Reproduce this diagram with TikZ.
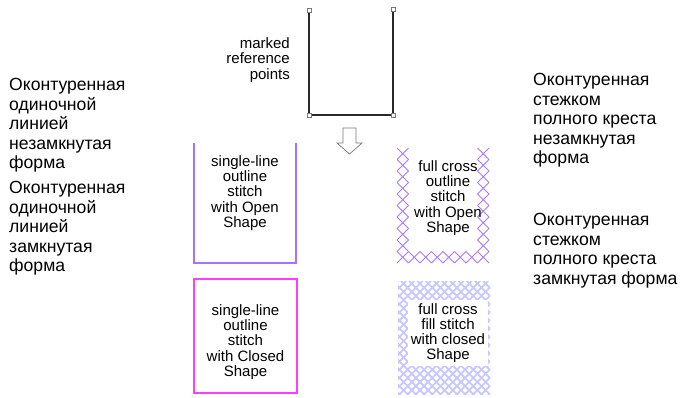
\documentclass[tikz,border=0pt]{standalone}
\usepackage{fontspec}
\setmainfont{Liberation Sans}
\usepackage{tikz}
\usetikzlibrary{positioning}
\definecolor{refgray}{RGB}{40,40,40}
\definecolor{markgray}{RGB}{120,120,120}
\definecolor{openviolet}{RGB}{165,115,255}
\definecolor{closedmagenta}{RGB}{255,60,255}
\definecolor{crossviolet}{RGB}{170,120,255}
\definecolor{filllavender}{RGB}{200,200,255}

\begin{document}
\begin{tikzpicture}[x=1pt,y=-1pt,
  rutext/.style={anchor=north west,inner sep=0pt,align=left,font=\fontsize{17.6}{19.6}\selectfont},
  entext/.style={inner sep=0pt,align=center,font=\fontsize{15}{15.2}\selectfont},
  refmark/.style={draw=markgray,fill=white,rectangle,minimum size=4pt,inner sep=0pt},
  xstitch/.style={crossviolet,line width=1pt},
  fillstitch/.style={filllavender,line width=1.8pt}]
\useasboundingbox (0,0) rectangle (700,398);
% marked reference points
\coordinate (ra) at (309,10);
\coordinate (rb) at (393,9);
\coordinate (rc) at (309,115);
\coordinate (rd) at (393,115);
\draw[refgray,line width=1.2pt] (ra) -- (rc) -- (rd) -- (rb);
\foreach \p in {ra,rb,rc,rd} {
   \node[refmark] (m\p) at (\p) {};
}
\node[entext,align=right,anchor=east] (marked) at (290,60) {marked\\reference\\points};
\draw[markgray,line width=0.7pt,fill=white] (343,128) -- (356,128) -- (356,143) -- (362,143)
   -- (349.5,154) -- (337,143) -- (343,143) -- cycle;
% single-line outline
\draw[openviolet,line width=1.2pt] (194,143) -- (194,263) -- (296,263) -- (296,143);
\node[entext] (openline) at (245,193) {single-line\\outline\\stitch\\with Open\\Shape};
\draw[closedmagenta,line width=1.4pt] (194,279) rectangle (297,393);
\node[entext] (closedline) at (245.5,342) {single-line\\outline\\stitch\\with Closed\\Shape};
% full cross outline
\foreach \r in {0,...,9} {
   \draw[xstitch] (397,148+\r*11.5) -- ++(11.5,11.5) (408.5,148+\r*11.5) -- ++(-11.5,11.5);
   \draw[xstitch] (477.5,148+\r*11.5) -- ++(11.5,11.5) (489,148+\r*11.5) -- ++(-11.5,11.5);
}
\foreach \c in {1,...,6} {
   \draw[xstitch] (397+\c*11.5,251.5) -- ++(11.5,11.5) (408.5+\c*11.5,251.5) -- ++(-11.5,11.5);
}
\node[entext] (outlinecross) at (448,198) {full cross\\outline\\stitch\\with Open\\Shape};
% full cross fill
\begin{scope}
\clip (398,281) rectangle (490,394);
\foreach \k in {0,...,28} {
   \draw[fillstitch] (278+\k*8.2,281) -- ++(120,120);
   \draw[fillstitch] (398+\k*8.2,281) -- ++(-120,120);
}
\end{scope}
\node[entext,fill=white,inner sep=3pt] (fillcross) at (448,333) {full cross\\fill stitch\\with closed\\Shape};
% russian captions
\node[rutext] (openru) at (9,78) {Оконтуренная\\одиночной\\линией\\незамкнутая\\форма};
\node[rutext] (closedru) at (9,181) {Оконтуренная\\одиночной\\линией\\замкнутая\\форма};
\node[rutext] (crossopenru) at (533,73) {Оконтуренная\\стежком\\полного креста\\незамкнутая\\форма};
\node[rutext] (crossclosedru) at (533,213) {Оконтуренная\\стежком\\полного креста\\замкнутая форма};
\end{tikzpicture}
\end{document}
